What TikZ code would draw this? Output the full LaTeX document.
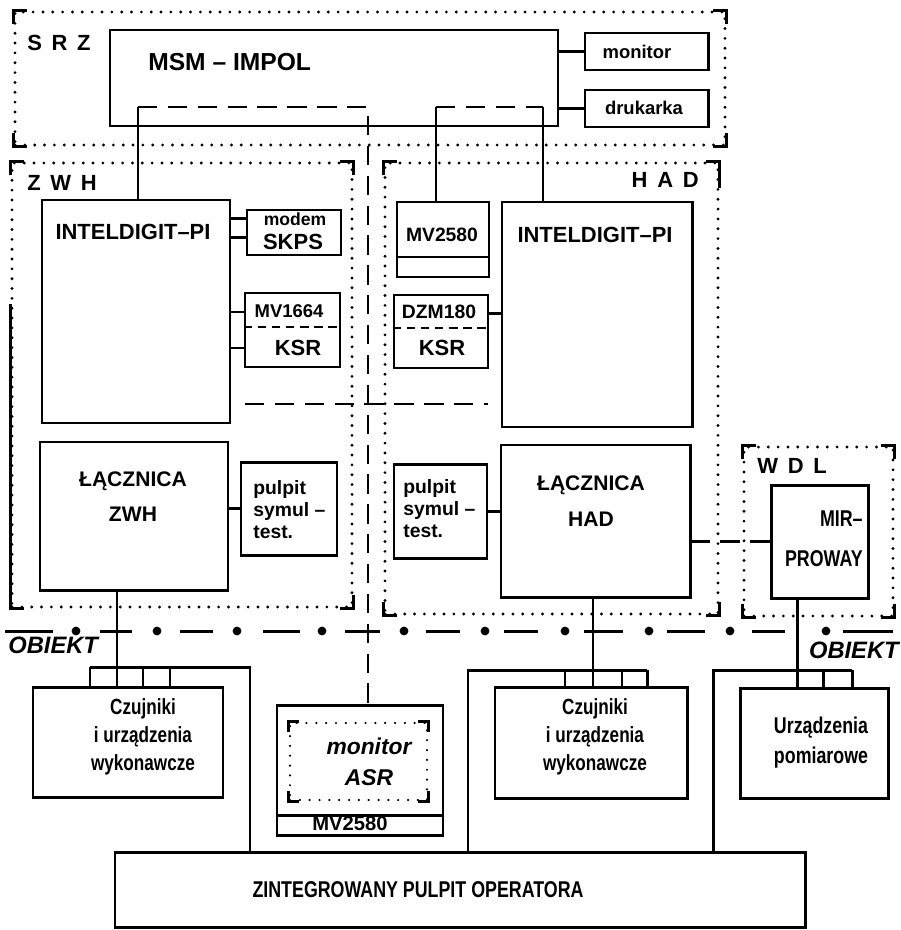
\documentclass[tikz,border=0pt]{standalone}
\usepackage{fontspec}
\setmainfont{Liberation Sans}
\newfontfamily\narrowsf{Liberation Sans}[FakeStretch=0.78, Ligatures=TeX]
\usetikzlibrary{calc,fit,positioning}

\newcommand\fz[2]{\fontsize{#1}{#2}\selectfont\bfseries}
% solid corners of a dotted frame
\newcommand\corners[2]{%
  \draw[ln] ($(#1.north west)+(0,#2)$) |- ($(#1.north west)+(#2,0)$);
  \draw[ln] ($(#1.north east)+(0,#2)$) |- ($(#1.north east)+(-#2,0)$);
  \draw[ln] ($(#1.south west)+(0,-#2)$) |- ($(#1.south west)+(#2,0)$);
  \draw[ln] ($(#1.south east)+(0,-#2)$) |- ($(#1.south east)+(-#2,0)$);}

\begin{document}
\begin{tikzpicture}[x=0.02cm, y=-0.02cm,
  blk/.style={draw, line width=1.7pt, inner sep=0pt},
  grp/.style={draw, line width=1.8pt, dash pattern=on 0pt off 5.6pt, line cap=round, inner sep=0pt},
  ln/.style={line width=1.7pt},
  dsh/.style={line width=1.7pt, dash pattern=on 11pt off 6pt},
  sub/.style={line width=1.3pt, dash pattern=on 5pt off 3pt},
  grplbl/.style={font={\fz{12.5}{14}\spaceskip=5.5pt\relax}, inner sep=0pt},
  txt/.style={inner sep=0pt, align=center}
]
\useasboundingbox (0,0) rectangle (901,930);

% dotted groups
\node[grp, fit={(15,12) (725,145)}] (srz) {};
\node[grp, fit={(12,163) (352,607)}] (zwh) {};
\node[grp, fit={(385,163) (718,614)}] (had) {};
\node[grp, fit={(744,447) (893,616)}] (wdl) {};
\foreach \g in {srz,zwh,had,wdl} {\corners{\g}{14}}
\draw[ln] (zwh.south west) -- ++(0,-305);
\draw[ln] (had.north east) -- ++(0,27);

\node[grplbl, anchor=west] (srzt) at (27,43) {S R Z};
\node[grplbl, anchor=west] (zwht) at (27,183) {Z W H};
\node[grplbl, anchor=east] (hadt) at (699,180) {H A D};
\node[grplbl, anchor=west] (wdlt) at (757,466) {W D L};

% blocks
\node[blk, fit={(110,30) (558,126)}] (msm) {};
\node[blk, fit={(585,33) (708,70)}] (mon) {};
\node[blk, fit={(585,90) (708,127)}] (druk) {};
\node[blk, fit={(42,200) (230,423)}] (intz) {};
\node[blk, fit={(247,210) (341,255)}] (modem) {};
\node[blk, fit={(245,293) (340,367)}] (mvz) {};
\node[blk, fit={(40,442) (228,590)}] (lacz) {};
\node[blk, fit={(241,462) (337,555)}] (pulz) {};
\node[blk, fit={(397,202) (489,277)}] (mvh) {};
\node[blk, fit={(394,295) (488,368)}] (dzm) {};
\node[blk, fit={(502,202) (692,427)}] (inth) {};
\node[blk, fit={(394,464) (487,558)}] (pulh) {};
\node[blk, fit={(501,445) (690,597)}] (lach) {};
\node[blk, fit={(771,485) (868,598)}] (mir) {};
\node[blk, fit={(33,687) (223,797)}] (czz) {};
\node[blk, fit={(277,705) (443,835)}] (asr) {};
\node[grp, line width=1.4pt, fit={(290,723) (427,800)}] (asrin) {};
\corners{asrin}{10}
\node[blk, fit={(495,687) (687,798)}] (czh) {};
\node[blk, fit={(740,688) (888,798)}] (urz) {};
\node[blk, fit={(115,852) (805,927)}] (zint) {};

% dividers
\draw[ln] ($(mvh.west)+(0,17.5)$) -- ($(mvh.east)+(0,17.5)$);
\draw[ln] ($(asr.west)+(0,45)$) -- ($(asr.east)+(0,45)$);
\draw[sub] ($(mvz.west)+(0,-3)$) -- ($(mvz.east)+(0,-3)$);
\draw[sub] ($(dzm.west)+(0,-3.5)$) -- ($(dzm.east)+(0,-3.5)$);

% texts
\node[txt, font=\fz{14}{16}, anchor=west] (msmt) at (148,62) {MSM \textendash{} IMPOL};
\node[txt, font=\fz{10.5}{12}] (mont) at (637,52) {monitor};
\node[txt, font=\fz{10.5}{12}] (drukt) at (644,108) {drukarka};
\node[txt, font=\fz{12.5}{14}] (intzt) at (133,232) {INTELDIGIT\textendash PI};
\node[txt, font=\fz{12.5}{14}] (intht) at (595,235) {INTELDIGIT\textendash PI};
\node[txt, font=\fz{10}{12}] (modt) at (295,219) {modem};
\node[txt, font=\fz{12.5}{14}] (skpst) at (293,242) {SKPS};
\node[txt, font=\fz{10.5}{12}] (mvzt) at (289,311) {MV1664};
\node[txt, font=\fz{12.5}{14}] (ksrz) at (298,348) {KSR};
\node[txt, font=\fz{11}{13}] (mvht) at (442,235) {MV2580};
\node[txt, font=\fz{11}{13}] (dzmt) at (439,312) {DZM180};
\node[txt, font=\fz{12.5}{14}] (ksrh) at (442,348) {KSR};
\node[txt, font=\fz{12}{20}] (laczt) at (133,497) {ŁĄCZNICA\\ZWH};
\node[txt, font=\fz{12}{20.4}] (lacht) at (591,501) {ŁĄCZNICA\\HAD};
\node[txt, align=left, font=\fz{11}{12.5}, anchor=west] (pulzt) at (253,510) {pulpit\\symul \textendash\\test.};
\node[txt, align=left, font=\fz{11}{12.5}, anchor=west] (pulht) at (403,509) {pulpit\\symul \textendash\\test.};
\node[txt, align=right, font=\narrowsf\fz{13}{22.7}, anchor=east] (mirt) at (863,539) {MIR\textendash\\PROWAY};
\node[txt, font=\narrowsf\fz{12.5}{16}] (czzt) at (143,737) {Czujniki\\i urządzenia\\wykonawcze};
\node[txt, font=\narrowsf\fz{12.5}{16}] (czht) at (595,737) {Czujniki\\i urządzenia\\wykonawcze};
\node[txt, font=\narrowsf\fz{13}{17}] (urzt) at (821,743) {Urządzenia\\pomiarowe};
\node[txt, font=\fz{13}{17.6}\itshape] (asrt) at (369,762) {monitor\\ASR};
\node[txt, font=\fz{11.5}{13}] (mvat) at (350,824) {MV2580};
\node[txt, font=\narrowsf\fz{13}{15}] (zintt) at (418,890) {ZINTEGROWANY PULPIT OPERATORA};
\node[txt, font=\fz{13.5}{15}\itshape, anchor=west] (obl) at (8,645) {OBIEKT};
\node[txt, font=\fz{13.5}{15}\itshape, anchor=east] (obr) at (899,650) {OBIEKT};

% links to MSM
\draw[ln] (mon.west) -- (mon.west -| msm.east);
\draw[ln] (druk.west) -- (druk.west -| msm.east);
\coordinate (jz) at (138,107);
\coordinate (jc) at (368,107);
\coordinate (jh) at (436,107);
\coordinate (ji) at (543,107);
\draw[ln] (jz) -- (jz |- intz.north);
\draw[dsh] (jz) -- (jc) -- (jc |- asr.north);
\draw[ln] (jh) -- (jh |- mvh.north);
\draw[dsh] (jh) -- (ji);
\draw[ln] (ji) -- (ji |- inth.north);

% side units
\foreach \dy in {-14,5} {\draw[ln] ($(modem.west)+(0,\dy)$) -- ($(intz.east |- modem.west)+(0,\dy)$);}
\foreach \dy in {-18,18} {\draw[ln] ($(mvz.west)+(0,\dy)$) -- ($(intz.east |- mvz.west)+(0,\dy)$);}
\draw[ln] ($(dzm.east)+(0,-18)$) -- ($(inth.west |- dzm.east)+(0,-18)$);
\coordinate (dl) at (245,404);
\coordinate (dr) at (488,404);
\draw[dsh] (dl) -- (dr);
\draw[ln] (pulz.west) -- (pulz.west -| lacz.east);
\draw[ln] (pulh.east) -- (pulh.east -| lach.west);
\draw[dsh] (mir.west) -- (mir.west -| lach.east);

% OBIEKT boundary
\foreach \a/\b in {5/53,100/132,180/213,263/300,345/380,426/460,504/538,584/623,667/705,752/785,843/893}
  \draw[ln] (\a,631) -- (\b,631);
\foreach \x in {76,157,237,322,404,485,565,649,730,826}
  \fill (\x,631) circle[radius=2.5pt];

% buses to field devices
\coordinate (lz) at (117,667);
\coordinate (bz) at (90,667);
\coordinate (bze) at (250,667);
\draw[ln] (lz |- lacz.south) -- (lz);
\draw[ln] (bz) -- (bze) -- (bze |- zint.north);
\foreach \x in {90,117,143,170} {\coordinate (c) at (\x,667); \draw[ln] (c) -- (c |- czz.north);}

\coordinate (lh) at (593,670);
\coordinate (bh) at (468,670);
\coordinate (bhe) at (647,670);
\draw[ln] (lh |- lach.south) -- (lh);
\draw[ln] (bh |- zint.north) -- (bh) -- (bhe);
\foreach \x in {565,593,622,647} {\coordinate (c) at (\x,670); \draw[ln] (c) -- (c |- czh.north);}

\coordinate (lw) at (797,670);
\coordinate (bw) at (713,670);
\coordinate (bwe) at (852,670);
\draw[ln] (lw |- mir.south) -- (lw);
\draw[ln] (bw |- zint.north) -- (bw) -- (bwe);
\foreach \x in {797,823,852} {\coordinate (c) at (\x,670); \draw[ln] (c) -- (c |- urz.north);}
\end{tikzpicture}
\end{document}
